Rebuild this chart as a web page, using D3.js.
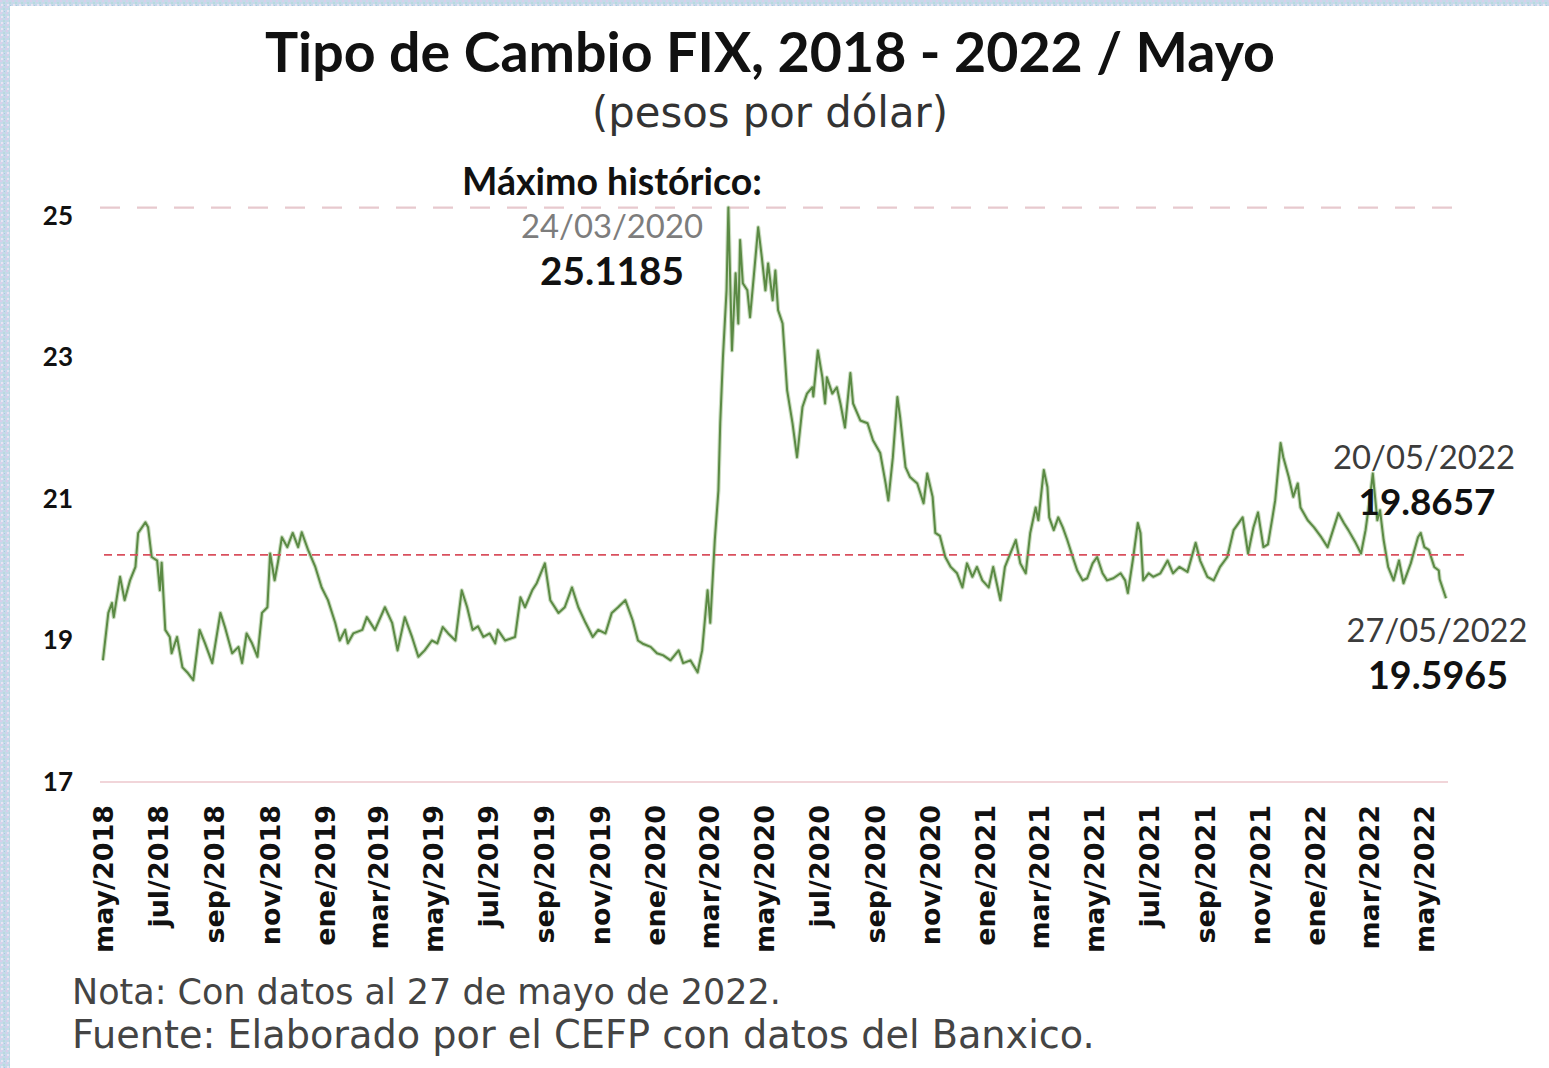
<!DOCTYPE html>
<html><head><meta charset="utf-8">
<script src="https://cdn.jsdelivr.net/npm/d3@7"></script>
<style>html,body{margin:0;padding:0;background:#fff;} svg{display:block}</style>
</head><body>
<svg id="c" width="1549" height="1068"></svg>
<script>
// ---- DATA ----
const fixDates = [
"2018-05-02","2018-05-08","2018-05-12","2018-05-14","2018-05-21","2018-05-26","2018-06-01","2018-06-07","2018-06-10","2018-06-18",
"2018-06-21","2018-06-25","2018-07-01","2018-07-04","2018-07-06","2018-07-10","2018-07-15","2018-07-17","2018-07-23","2018-07-29",
"2018-08-04","2018-08-10","2018-08-17","2018-08-23","2018-08-31","2018-09-09","2018-09-14","2018-09-22","2018-09-29","2018-10-03",
"2018-10-08","2018-10-14","2018-10-20","2018-10-25","2018-10-31","2018-11-03","2018-11-08","2018-11-12","2018-11-16","2018-11-22",
"2018-11-28","2018-12-04","2018-12-08","2018-12-15","2018-12-23","2018-12-30","2019-01-06","2019-01-14","2019-01-19","2019-01-25",
"2019-01-28","2019-02-03","2019-02-13","2019-02-18","2019-02-27","2019-03-10","2019-03-18","2019-03-24","2019-04-01","2019-04-09",
"2019-04-16","2019-04-23","2019-05-01","2019-05-07","2019-05-13","2019-05-19","2019-05-27","2019-06-03","2019-06-09","2019-06-15",
"2019-06-21","2019-06-27","2019-07-04","2019-07-10","2019-07-13","2019-07-21","2019-08-01","2019-08-07","2019-08-12","2019-08-20",
"2019-08-25","2019-09-03","2019-09-09","2019-09-18","2019-09-25","2019-10-03","2019-10-10","2019-10-18","2019-10-26","2019-11-01",
"2019-11-09","2019-11-16","2019-11-23","2019-12-01","2019-12-09","2019-12-15","2019-12-21","2019-12-29","2020-01-05","2020-01-12",
"2020-01-20","2020-01-29","2020-02-03","2020-02-11","2020-02-19","2020-02-24","2020-03-01","2020-03-04","2020-03-09","2020-03-13",
"2020-03-15","2020-03-18","2020-03-22","2020-03-24","2020-03-28","2020-04-01","2020-04-04","2020-04-06","2020-04-09","2020-04-14",
"2020-04-17","2020-04-21","2020-04-26","2020-04-30","2020-05-04","2020-05-07","2020-05-12","2020-05-15","2020-05-18","2020-05-23",
"2020-05-28","2020-06-03","2020-06-08","2020-06-14","2020-06-19","2020-06-25","2020-06-26","2020-07-01","2020-07-06","2020-07-09",
"2020-07-11","2020-07-17","2020-07-22","2020-07-26","2020-07-31","2020-08-06","2020-08-09","2020-08-17","2020-08-25","2020-08-31",
"2020-09-08","2020-09-14","2020-09-17","2020-09-22","2020-09-27","2020-09-30","2020-10-06","2020-10-11","2020-10-19","2020-10-26",
"2020-10-30","2020-11-05","2020-11-08","2020-11-13","2020-11-19","2020-11-25","2020-12-02","2020-12-08","2020-12-13","2020-12-19",
"2020-12-24","2020-12-30","2021-01-06","2021-01-11","2021-01-19","2021-01-24","2021-01-30","2021-02-05","2021-02-10","2021-02-16",
"2021-02-21","2021-02-27","2021-03-02","2021-03-08","2021-03-12","2021-03-14","2021-03-19","2021-03-24","2021-03-29","2021-04-03",
"2021-04-09","2021-04-14","2021-04-20","2021-04-25","2021-05-01","2021-05-06","2021-05-12","2021-05-17","2021-05-24","2021-06-01",
"2021-06-06","2021-06-09","2021-06-15","2021-06-20","2021-06-23","2021-06-26","2021-07-02","2021-07-07","2021-07-15","2021-07-23",
"2021-07-29","2021-08-05","2021-08-14","2021-08-23","2021-08-28","2021-09-05","2021-09-12","2021-09-19","2021-09-27","2021-10-04",
"2021-10-14","2021-10-20","2021-10-26","2021-10-31","2021-11-06","2021-11-11","2021-11-16","2021-11-19","2021-11-25","2021-11-28",
"2021-12-04","2021-12-09","2021-12-14","2021-12-17","2021-12-25","2022-01-01","2022-01-09","2022-01-16","2022-01-22","2022-01-28",
"2022-02-03","2022-02-08","2022-02-16","2022-02-22","2022-02-27","2022-03-04","2022-03-07","2022-03-12","2022-03-15","2022-03-19",
"2022-03-24","2022-03-30","2022-04-05","2022-04-10","2022-04-18","2022-04-26","2022-04-29","2022-05-03","2022-05-08","2022-05-14",
"2022-05-19","2022-05-20","2022-05-27"
];
const fixValues = [
18.72,19.39,19.53,19.33,19.90,19.57,19.85,20.04,20.52,20.67,
20.60,20.18,20.13,19.71,20.10,19.15,19.05,18.82,19.05,18.62,
18.54,18.44,19.15,18.96,18.68,19.39,19.19,18.82,18.91,18.68,
19.10,18.96,18.77,19.39,19.47,20.23,19.85,20.13,20.46,20.32,
20.52,20.32,20.53,20.28,20.04,19.75,19.57,19.25,19.00,19.15,
18.96,19.10,19.15,19.33,19.15,19.47,19.25,18.86,19.33,19.05,
18.77,18.86,19.00,18.96,19.19,19.10,19.00,19.71,19.47,19.15,
19.20,19.05,19.10,18.96,19.15,19.00,19.05,19.61,19.47,19.71,
19.81,20.09,19.57,19.39,19.47,19.75,19.47,19.25,19.05,19.15,
19.10,19.39,19.47,19.57,19.29,19.00,18.95,18.91,18.82,18.79,
18.72,18.86,18.68,18.72,18.55,18.86,19.71,19.25,20.42,21.12,
22.07,23.00,23.95,25.1185,23.10,24.19,23.48,24.66,24.05,23.95,
23.57,24.13,24.84,24.42,23.95,24.33,23.81,24.23,23.67,23.48,
22.54,22.07,21.59,22.30,22.49,22.58,22.45,23.10,22.72,22.35,
22.72,22.49,22.58,22.35,22.01,22.78,22.35,22.11,22.07,21.83,
21.65,21.22,20.98,21.59,22.44,22.16,21.45,21.31,21.22,20.94,
21.36,21.03,20.52,20.48,20.18,20.04,19.95,19.75,20.09,19.90,
20.04,19.85,19.75,20.04,19.57,20.04,20.23,20.42,20.09,19.95,
20.52,20.88,20.70,21.41,21.17,20.74,20.56,20.74,20.60,20.42,
20.18,19.99,19.85,19.88,20.09,20.18,19.95,19.85,19.88,19.95,
19.85,19.67,20.18,20.66,20.52,19.85,19.95,19.90,19.95,20.13,
19.95,20.04,19.97,20.38,20.13,19.90,19.85,20.04,20.18,20.56,
20.74,20.23,20.60,20.81,20.32,20.36,20.74,20.98,21.79,21.59,
21.31,21.03,21.22,20.88,20.70,20.60,20.46,20.32,20.56,20.80,
20.66,20.56,20.38,20.23,20.56,21.03,21.36,20.70,20.84,20.42,
20.04,19.85,20.13,19.81,20.09,20.46,20.52,20.32,20.28,20.04,
19.99,19.8657,19.5965
];
const yTicks = [17, 19, 21, 23, 25];
const monthAbbr = ["ene","feb","mar","abr","may","jun","jul","ago","sep","oct","nov","dic"];
const xStart = "2018-05-01", xEnd = "2022-05-27", lastTick = "2022-05-01";
const maxValue = 25.1185;
const avgValue = 20.21;
const titleText = "Tipo de Cambio FIX, 2018 - 2022 / Mayo";
const subtitleText = "(pesos por dólar)";
const maxLabel = "Máximo histórico:";
const noteLines = ["Nota: Con datos al 27 de mayo de 2022.", "Fuente: Elaborado por el CEFP con datos del Banxico."];
const annotDates = ["2020-03-24", "2022-05-20", "2022-05-27"];

// ---- DRAW ----
const W = 1549, H = 1068;
const svg = d3.select("#c");
const defs = svg.append("defs");
const pat = defs.append("pattern").attr("id","spk").attr("width",6).attr("height",6).attr("patternUnits","userSpaceOnUse");
pat.append("rect").attr("width",6).attr("height",6).attr("fill","#c6d9ea");
pat.append("rect").attr("x",0).attr("y",0).attr("width",2).attr("height",2).attr("fill","#d8cfea");
pat.append("rect").attr("x",3).attr("y",2).attr("width",2).attr("height",2).attr("fill","#b7dbdc");
pat.append("rect").attr("x",1).attr("y",4).attr("width",2).attr("height",2).attr("fill","#e8e4f2");
pat.append("rect").attr("x",4).attr("y",5).attr("width",1).attr("height",1).attr("fill","#a9c9e0");
svg.append("rect").attr("width",W).attr("height",H).attr("fill","url(#spk)");
svg.append("rect").attr("x",10).attr("y",6).attr("width",W-10).attr("height",H-6).attr("fill","#fff");

const data = fixDates.map((d,i)=>({date:new Date(d), value:fixValues[i]}));
const x = d3.scaleUtc().domain([new Date(xStart), new Date(xEnd)]).range([102, 1446]);
const y = d3.scaleLinear().domain([17, 25]).range([782, 216]);

function fit(sel, w){
  const fs = parseFloat(sel.attr("font-size"));
  const cur = sel.node().getComputedTextLength();
  if (cur > 0) sel.attr("font-size", (fs * w / cur).toFixed(2));
  return parseFloat(sel.attr("font-size"));
}

// baseline
svg.append("line").attr("x1",100).attr("x2",1448).attr("y1",y(17)).attr("y2",y(17))
  .attr("stroke","#f1d5d9").attr("stroke-width",2);
// max dashed line
svg.append("line").attr("x1",100).attr("x2",1462).attr("y1",y(maxValue)).attr("y2",y(maxValue))
  .attr("stroke","#e7c9ce").attr("stroke-width",2.2).attr("stroke-dasharray","20,17");

// series line
const line = d3.line().x(d=>x(d.date)).y(d=>y(d.value)).curve(d3.curveLinear);
svg.append("path").datum(data).attr("d",line).attr("fill","none")
  .attr("stroke","#a7c596").attr("stroke-width",4.2).attr("stroke-linejoin","round").attr("opacity",0.6);
svg.append("path").datum(data).attr("d",line).attr("fill","none")
  .attr("stroke","#5b8a44").attr("stroke-width",2).attr("stroke-linejoin","round");

// average dashed
svg.append("line").attr("x1",104).attr("x2",1466).attr("y1",y(avgValue)).attr("y2",y(avgValue))
  .attr("stroke","#d9505e").attr("stroke-width",1.8).attr("stroke-dasharray","8,5");

// y axis
const gy = svg.append("g").attr("transform","translate(102,0)")
  .call(d3.axisLeft(y).tickValues(yTicks).tickSize(0).tickPadding(29).tickFormat(d3.format("d")));
gy.select(".domain").remove();
gy.selectAll("text").attr("font-family","Lato").attr("font-weight","bold").attr("font-size",26).attr("fill","#111");

// x axis
const xTicks = d3.utcMonth.every(2).range(new Date(xStart), d3.utcDay.offset(new Date(lastTick),1));
const gx = svg.append("g").attr("transform",`translate(0,${y(17)})`)
  .call(d3.axisBottom(x).tickValues(xTicks).tickSize(0)
    .tickFormat(d => monthAbbr[d.getUTCMonth()] + "/" + d.getUTCFullYear()));
gx.select(".domain").remove();
const xt = gx.selectAll("text").attr("font-family","DejaVu Sans").attr("font-weight","bold")
  .attr("font-size",26).attr("fill","#111")
  .attr("text-anchor","end").attr("transform","rotate(-90)")
  .attr("x",-23).attr("y",0).attr("dy","0.4em");
const xfs = fit(d3.select(xt.nodes()[0]), 148);
xt.attr("font-size", xfs);

// title
const t = svg.append("text").attr("x",770).attr("y",72).attr("text-anchor","middle")
  .attr("font-family","Lato").attr("font-weight","bold").attr("font-size",50).attr("fill","#111").text(titleText);
fit(t, 1010);
const st = svg.append("text").attr("x",770).attr("y",127).attr("text-anchor","middle")
  .attr("font-family","DejaVu Sans").attr("font-size",34).attr("fill","#333").text(subtitleText);
fit(st, 356);

// annotations
const fmtDate = d3.utcFormat("%d/%m/%Y");
const valOf = ds => data.find(p => +p.date === +new Date(ds)).value;
function label(txt, cx, by, w, weight, color){
  const s = svg.append("text").attr("x",cx).attr("y",by).attr("text-anchor","middle")
    .attr("font-family","Lato").attr("font-weight",weight).attr("font-size",30).attr("fill",color).text(txt);
  fit(s, w);
  return s;
}
label(maxLabel, 612, 195, 300, "bold", "#111");
label(fmtDate(new Date(annotDates[0])), 612, 238, 182, "normal", "#7d7d7d");
label(valOf(annotDates[0]).toFixed(4), 612, 285, 144, "bold", "#111");
label(fmtDate(new Date(annotDates[1])), 1424, 469, 182, "normal", "#3c3c3c");
label(valOf(annotDates[1]).toFixed(4), 1427, 515, 137, "bold", "#111");
label(fmtDate(new Date(annotDates[2])), 1437, 642, 181, "normal", "#3c3c3c");
label(valOf(annotDates[2]).toFixed(4), 1438, 689, 140, "bold", "#111");

// notes
const noteW = [709, 1023], noteY = [1004, 1048];
noteLines.forEach((s,i)=>{
  const n = svg.append("text").attr("x",72).attr("y",noteY[i])
    .attr("font-family","DejaVu Sans").attr("font-size",30).attr("fill","#444").text(s);
  fit(n, noteW[i]);
});
</script>
</body></html>
